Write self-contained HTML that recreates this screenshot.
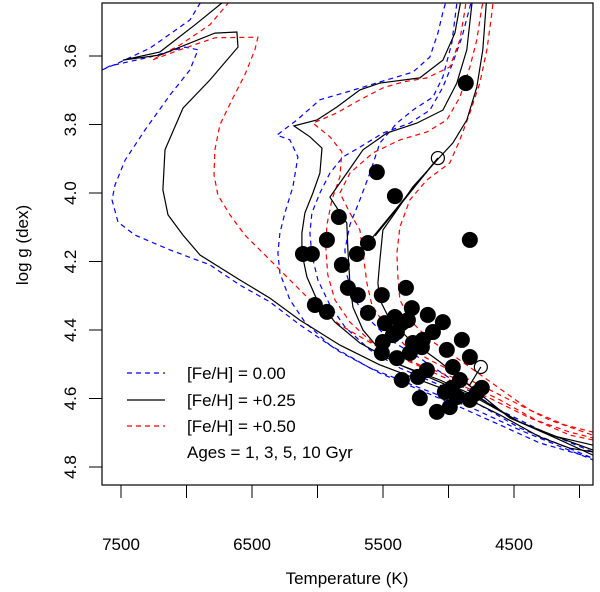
<!DOCTYPE html>
<html><head><meta charset="utf-8"><style>
html,body{margin:0;padding:0;background:#fff;}
svg{display:block;font-family:"Liberation Sans",Arial,sans-serif;}
</style></head><body>
<svg id="chart" width="600" height="592" viewBox="0 0 600 592" xmlns="http://www.w3.org/2000/svg">
<defs><clipPath id="clip"><rect x="102" y="3" width="491" height="482"/></clipPath></defs>
<g id="series" clip-path="url(#clip)"></g>
<rect x="102" y="3" width="491" height="482" fill="none" stroke="#000" stroke-width="1.2"/>
<g id="axes"></g>
<text x="347" y="584" font-size="17" text-anchor="middle">Temperature (K)</text>
<text transform="translate(28,245) rotate(-90)" font-size="17" text-anchor="middle">log g (dex)</text>
<g font-size="17">
<line x1="127" y1="373" x2="165" y2="373" stroke="#0000ff" stroke-width="1.2" stroke-dasharray="5,4"/>
<text x="187" y="379">[Fe/H] = 0.00</text>
<line x1="127" y1="400" x2="165" y2="400" stroke="#000" stroke-width="1.2"/>
<text x="187" y="406">[Fe/H] = +0.25</text>
<line x1="127" y1="426" x2="165" y2="426" stroke="#ff0000" stroke-width="1.2" stroke-dasharray="5,4"/>
<text x="187" y="432">[Fe/H] = +0.50</text>
<text x="187" y="458">Ages = 1, 3, 5, 10 Gyr</text>
</g>
</svg>
<script>
const xTicks = [7500, 7000, 6500, 6000, 5500, 5000, 4500, 4000];
const xTickLabels = ["7500", "", "6500", "", "5500", "", "4500", ""];
const yTicks = [3.6, 3.8, 4.0, 4.2, 4.4, 4.6, 4.8];
const yTickLabels = ["3.6", "3.8", "4.0", "4.2", "4.4", "4.6", "4.8"];

const k0_1T = [6729,6935,7202,7485,7202,6783,6615,6607,6821,7027,7164,7180,7141,7027,6897,6592,6363,6134,5829,5524,5219,4913,4608,4303,4074,3899];
const k0_1G = [3.445,3.509,3.588,3.612,3.597,3.533,3.530,3.574,3.670,3.752,3.874,3.991,4.064,4.123,4.181,4.254,4.307,4.371,4.444,4.502,4.546,4.590,4.648,4.712,4.745,4.756];
const k3T = [4898,4951,5043,5219,5524,5676,5852,6004,6180,6058,5966,5982,6035,6096,6119,6119,6081,6004,5867,5676,5371,5066,4761,4456,4150,3899];
const k3G = [3.422,3.533,3.612,3.664,3.679,3.699,3.749,3.787,3.804,3.836,3.869,3.942,4.000,4.058,4.117,4.175,4.245,4.312,4.377,4.438,4.502,4.546,4.599,4.669,4.721,4.765];
const k5T = [4814,4860,4937,5043,5242,5471,5653,5776,5905,5776,5768,5753,5730,5653,5524,5371,5066,4761,4456,4150,3899];
const k5G = [3.422,3.582,3.679,3.758,3.796,3.825,3.874,3.942,4.012,4.088,4.166,4.263,4.333,4.400,4.458,4.502,4.552,4.604,4.669,4.715,4.750];
const k10T = [4707,4738,4784,4860,4967,5066,5272,5394,5501,5524,5539,5524,5447,5295,5066,4799,4532,4227,3899];
const k10G = [3.422,3.582,3.691,3.787,3.854,3.895,3.982,4.050,4.108,4.196,4.263,4.312,4.371,4.429,4.493,4.575,4.657,4.707,4.736];

const b1T = [6859,6974,7279,7508,7645,7584,7279,7012,6912,6974,7126,7317,7469,7546,7569,7523,7393,7126,6821,6592,6363,6134,5829,5524,5219,4913,4608,4303,3899];
const b1G = [3.422,3.495,3.577,3.618,3.641,3.629,3.603,3.574,3.582,3.641,3.714,3.816,3.904,3.977,4.020,4.085,4.123,4.166,4.210,4.269,4.318,4.385,4.464,4.526,4.575,4.625,4.677,4.730,4.774];
const b3T = [5005,5043,5081,5142,5272,5524,5776,5982,6157,6310,6211,6150,6188,6249,6287,6302,6287,6211,6096,5905,5600,5219,4837,4456,3899];
const b3G = [3.422,3.472,3.533,3.603,3.647,3.676,3.705,3.728,3.787,3.831,3.845,3.895,3.982,4.058,4.117,4.175,4.234,4.312,4.377,4.444,4.511,4.569,4.625,4.692,4.779];
const b5T = [4814,4837,4898,4967,5043,5142,5295,5501,5676,5806,5905,5982,6043,6058,6043,5997,5905,5791,5600,5371,5066,4761,4456,3899];
const b5G = [3.422,3.457,3.545,3.620,3.691,3.758,3.796,3.825,3.866,3.895,3.942,4.000,4.058,4.117,4.181,4.254,4.327,4.391,4.458,4.511,4.561,4.619,4.686,4.774];
const b10T = [4921,4936,4975,5043,5119,5272,5394,5524,5600,5676,5753,5791,5776,5715,5600,5447,5219,4913,4608,4303,3899];
const b10G = [3.422,3.445,3.562,3.661,3.720,3.758,3.796,3.854,3.942,4.020,4.093,4.166,4.239,4.312,4.371,4.429,4.482,4.561,4.634,4.692,4.756];

const r1T = [6630,6821,7050,7263,7050,6783,6455,6478,6554,6653,6745,6783,6790,6760,6668,6554,6401,6249,6058,5829,5524,5219,4913,4608,4303,4074,3899];
const r1G = [3.422,3.509,3.568,3.612,3.582,3.547,3.545,3.582,3.655,3.728,3.801,3.874,3.947,4.006,4.064,4.123,4.181,4.239,4.312,4.385,4.453,4.502,4.546,4.604,4.669,4.707,4.721];
const r3T = [4860,4875,4913,4990,5165,5348,5501,5676,5852,6035,5905,5814,5829,5890,5928,5936,5921,5867,5753,5562,5295,4990,4685,4379,4074,3899];
const r3G = [3.422,3.466,3.553,3.632,3.664,3.676,3.693,3.728,3.766,3.796,3.836,3.880,3.953,4.020,4.093,4.166,4.239,4.312,4.377,4.444,4.493,4.546,4.599,4.657,4.698,4.715];
const r5T = [4722,4745,4784,4837,4913,5013,5165,5371,5577,5753,5829,5753,5676,5653,5623,5585,5486,5333,5142,4837,4532,4227,3899];
const r5G = [3.422,3.457,3.553,3.632,3.720,3.787,3.822,3.845,3.883,3.942,4.000,4.058,4.108,4.175,4.263,4.327,4.385,4.444,4.488,4.546,4.604,4.663,4.707];
const r10T = [4654,4669,4707,4761,4837,4913,4990,5165,5295,5371,5394,5386,5371,5295,5142,4913,4646,4379,4112,3899];
const r10G = [3.422,3.474,3.582,3.679,3.766,3.845,3.912,3.962,4.020,4.099,4.175,4.245,4.312,4.371,4.429,4.488,4.561,4.634,4.677,4.698];

const starT = [4868,5547,5409,5837,5928,5615,6111,6043,5699,5814,4837,5768,5692,5509,5325,6020,5928,5615,5280,5158,5043,5409,5486,5310,5394,5501,5272,5196,5119,5509,5394,5295,5203,5013,4898,4837,4967,4913,4746,5165,5234,5356,5219,5089,4990,4936,4837,4784,4975,5028,5425,5356];
const starG = [3.679,3.939,4.009,4.070,4.137,4.146,4.178,4.178,4.178,4.210,4.137,4.277,4.298,4.298,4.277,4.327,4.347,4.350,4.336,4.356,4.377,4.362,4.380,4.371,4.406,4.435,4.438,4.429,4.406,4.467,4.482,4.467,4.450,4.458,4.429,4.479,4.508,4.546,4.569,4.517,4.537,4.546,4.599,4.639,4.625,4.596,4.604,4.584,4.569,4.581,4.415,4.380];
const openT = [5081, 4753];
const openG = [3.898, 4.508];
const linkFromT = [5081, 5081, 4753];
const linkFromG = [3.898, 3.898, 4.508];
const linkToT = [5615, 5560, 4837];
const linkToG = [4.146, 4.125, 4.560];

const NS = "http://www.w3.org/2000/svg";
function xs(T){ return 121 + (7500 - T) * 0.131; }
function ys(g){ return 56 + (g - 3.6) * 342.5; }

const series = document.getElementById('series');
const axes = document.getElementById('axes');

function drawLine(T, G, color, dashed, name){
  const p = document.createElementNS(NS, 'polyline');
  p.setAttribute('points', T.map((t,i)=>xs(t).toFixed(1)+','+ys(G[i]).toFixed(1)).join(' '));
  p.setAttribute('fill','none');
  p.setAttribute('stroke', color);
  p.setAttribute('stroke-width','1.2');
  if (dashed) p.setAttribute('stroke-dasharray','5,4');
  
  
  series.appendChild(p);
}
drawLine(b1T,b1G,'#0000ff',true,'isochrone-fe000-1gyr');
drawLine(b3T,b3G,'#0000ff',true,'isochrone-fe000-3gyr');
drawLine(b5T,b5G,'#0000ff',true,'isochrone-fe000-5gyr');
drawLine(b10T,b10G,'#0000ff',true,'isochrone-fe000-10gyr');
drawLine(r1T,r1G,'#ff0000',true,'isochrone-fe050-1gyr');
drawLine(r3T,r3G,'#ff0000',true,'isochrone-fe050-3gyr');
drawLine(r5T,r5G,'#ff0000',true,'isochrone-fe050-5gyr');
drawLine(r10T,r10G,'#ff0000',true,'isochrone-fe050-10gyr');
drawLine(k0_1T,k0_1G,'#000',false,'isochrone-fe025-1gyr');
drawLine(k3T,k3G,'#000',false,'isochrone-fe025-3gyr');
drawLine(k5T,k5G,'#000',false,'isochrone-fe025-5gyr');
drawLine(k10T,k10G,'#000',false,'isochrone-fe025-10gyr');

for (let i=0;i<linkFromT.length;i++){
  const l = document.createElementNS(NS,'line');
  l.setAttribute('x1', xs(linkFromT[i])); l.setAttribute('y1', ys(linkFromG[i]));
  l.setAttribute('x2', xs(linkToT[i])); l.setAttribute('y2', ys(linkToG[i]));
  l.setAttribute('stroke','#000'); l.setAttribute('stroke-width','1.2');
  
  
  series.appendChild(l);
}
for (let i=0;i<starT.length;i++){
  const c = document.createElementNS(NS,'circle');
  c.setAttribute('cx', xs(starT[i])); c.setAttribute('cy', ys(starG[i]));
  c.setAttribute('r','8'); c.setAttribute('fill','#000');
  
  
  series.appendChild(c);
}
for (let i=0;i<openT.length;i++){
  const c = document.createElementNS(NS,'circle');
  c.setAttribute('cx', xs(openT[i])); c.setAttribute('cy', ys(openG[i]));
  c.setAttribute('r','6.5'); c.setAttribute('fill','none'); c.setAttribute('stroke','#000'); c.setAttribute('stroke-width','1.2');
  
  
  series.appendChild(c);
}

xTicks.forEach((t,i)=>{
  const x = xs(t);
  const l = document.createElementNS(NS,'line');
  l.setAttribute('x1',x); l.setAttribute('x2',x); l.setAttribute('y1',485); l.setAttribute('y2',498);
  l.setAttribute('stroke','#000'); l.setAttribute('stroke-width','1');
  
  
  axes.appendChild(l);
  if (xTickLabels[i]){
    const tx = document.createElementNS(NS,'text');
    tx.setAttribute('x',x); tx.setAttribute('y',550); tx.setAttribute('font-size','17'); tx.setAttribute('text-anchor','middle');
    tx.textContent = xTickLabels[i];
    
    
    axes.appendChild(tx);
  }
});
yTicks.forEach((g,i)=>{
  const y = ys(g);
  const l = document.createElementNS(NS,'line');
  l.setAttribute('x1',89); l.setAttribute('x2',102); l.setAttribute('y1',y); l.setAttribute('y2',y);
  l.setAttribute('stroke','#000'); l.setAttribute('stroke-width','1');
  
  
  axes.appendChild(l);
  const tx = document.createElementNS(NS,'text');
  tx.setAttribute('transform','translate(76,'+y+') rotate(-90)');
  tx.setAttribute('font-size','17'); tx.setAttribute('text-anchor','middle');
  tx.textContent = yTickLabels[i];
  
  
  axes.appendChild(tx);
});
</script>
</body></html>
